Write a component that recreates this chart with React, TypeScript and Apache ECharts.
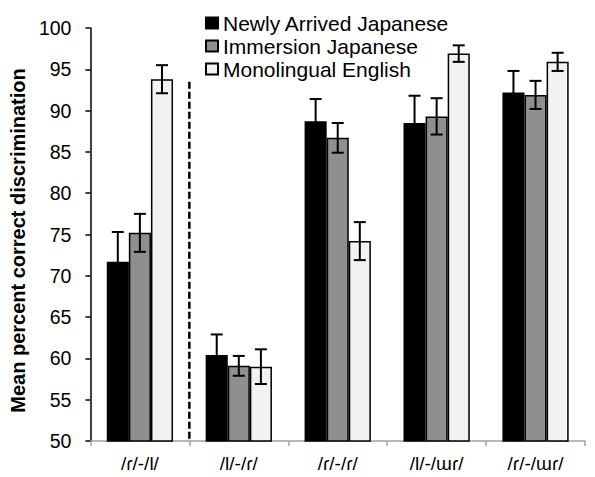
import React, { useEffect, useRef } from "react";
import * as echarts from "echarts";

const categories = ["/ɾ/-/l/", "/l/-/ɾ/", "/ɾ/-/ɾ/", "/l/-/ɯɾ/", "/ɾ/-/ɯɾ/"];
const seriesNames = ["Newly Arrived Japanese", "Immersion Japanese", "Monolingual English"];
const newlyArrived = [71.7, 60.4, 88.7, 88.5, 92.2];
const newlyArrivedErr = [3.6, 2.5, 2.7, 3.3, 2.6];
const immersion = [75.2, 59.1, 86.7, 89.3, 91.9];
const immersionErr = [2.3, 1.2, 1.8, 2.2, 1.7];
const monolingual = [93.8, 59.0, 74.2, 96.9, 95.9];
const monolingualErr = [1.7, 2.1, 2.3, 1.0, 1.1];
const separatorTop = 93.5;

const fills = ["#000000", "#8f8f8f", "#f2f2f2"];
const GAP = 0.33;

export default function App() {
  const ref = useRef<HTMLDivElement>(null);
  useEffect(() => {
    const chart = echarts.init(ref.current!, null, { renderer: "svg" });
    const values = [newlyArrived, immersion, monolingual];
    const errs = [newlyArrivedErr, immersionErr, monolingualErr];

    const barSeries = seriesNames.map((name, i) => ({
      name,
      type: "bar",
      data: values[i],
      barGap: "0%",
      barCategoryGap: GAP * 100 + "%",
      itemStyle: { color: fills[i], borderColor: "#000", borderWidth: 1.5 },
      z: 2,
    }));

    const errSeries = seriesNames.map((name, i) => ({
      name: name + " error",
      type: "custom",
      z: 5,
      data: values[i].map((v, j) => [j, v, errs[i][j]]),
      encode: { x: 0, y: 1 },
      renderItem: (params: any, api: any) => {
        const c = api.value(0);
        const v = api.value(1);
        const e = api.value(2);
        const top = api.coord([c, v + e]);
        const bot = api.coord([c, v - e]);
        const band = api.size([1, 0])[0];
        const bw = (band * (1 - GAP)) / 3;
        const x = top[0] + (i - 1) * bw;
        const cap = 6;
        const style = { stroke: "#000", lineWidth: 2 };
        return {
          type: "group",
          children: [
            { type: "line", shape: { x1: x, y1: top[1], x2: x, y2: bot[1] }, style },
            { type: "line", shape: { x1: x - cap, y1: top[1], x2: x + cap, y2: top[1] }, style },
            { type: "line", shape: { x1: x - cap, y1: bot[1], x2: x + cap, y2: bot[1] }, style },
          ],
        };
      },
    }));

    const sepSeries = {
      name: "separator",
      type: "custom",
      z: 6,
      data: [[0, separatorTop]],
      encode: { x: 0, y: 1 },
      renderItem: (params: any, api: any) => {
        const top = api.coord([api.value(0), api.value(1)]);
        const bot = api.coord([api.value(0), 50]);
        const band = api.size([1, 0])[0];
        const x = top[0] + band / 2;
        return {
          type: "line",
          shape: { x1: x, y1: top[1], x2: x, y2: bot[1] },
          style: { stroke: "#000", lineWidth: 2.5, lineDash: [7, 3] },
        };
      },
    };

    chart.setOption({
      animation: false,
      grid: { left: 87, right: 10, top: 28, bottom: 36 },
      legend: {
        data: seriesNames,
        orient: "vertical",
        left: 200,
        top: 7,
        icon: "rect",
        itemWidth: 12,
        itemHeight: 11,
        itemGap: 1,
        textStyle: { fontSize: 21, lineHeight: 22, color: "#000", fontFamily: "Liberation Sans" },
      },
      xAxis: {
        type: "category",
        data: categories,
        axisLine: { lineStyle: { color: "#a0a0a0", width: 1.5 } },
        axisTick: { show: true, length: 5, lineStyle: { color: "#a0a0a0", width: 1.5 } },
        axisLabel: { fontSize: 19, color: "#000", fontFamily: "Liberation Sans", margin: 13 },
      },
      yAxis: {
        type: "value",
        min: 50,
        max: 100,
        interval: 5,
        name: "Mean percent correct discrimination",
        nameLocation: "middle",
        nameGap: 60,
        nameTextStyle: {
          fontSize: 20,
          fontWeight: "bold",
          color: "#000",
          fontFamily: "Liberation Sans",
          padding: [0, 12, 0, 0],
        },
        splitLine: { show: false },
        axisLine: { show: true, lineStyle: { color: "#000", width: 1.5 } },
        axisTick: { show: true, length: 5, lineStyle: { color: "#000", width: 1.5 } },
        axisLabel: { fontSize: 19.5, color: "#000", fontFamily: "Liberation Sans", margin: 19 },
      },
      series: [...barSeries, ...errSeries, sepSeries],
    });
    return () => chart.dispose();
  }, []);
  return (
    <div
      ref={ref}
      style={{ position: "fixed", left: 0, top: 0, width: 595, height: 477, background: "#fff" }}
    />
  );
}
